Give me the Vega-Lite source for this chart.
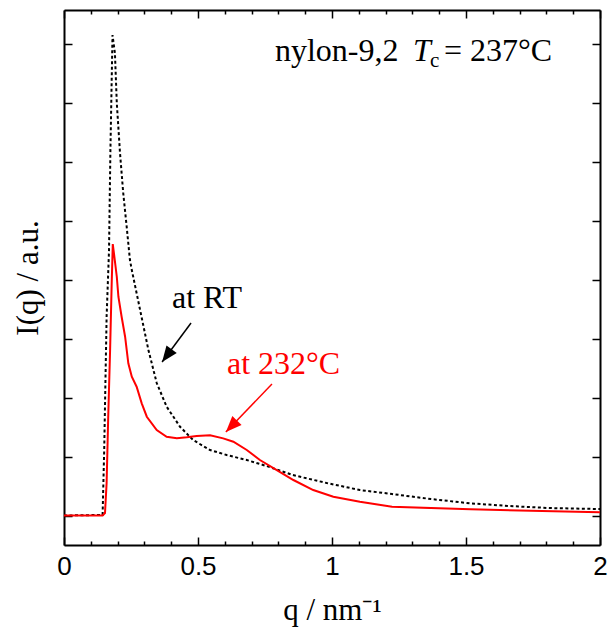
{
  "$schema": "https://vega.github.io/schema/vega-lite/v6.json",
  "width": 536,
  "height": 535,
  "autosize": {"type": "none"},
  "padding": {"left": 64, "top": 10, "right": 14, "bottom": 83},
  "background": "white",
  "config": {
    "view": {"stroke": null},
    "font": "Liberation Serif",
    "axis": {
      "grid": false,
      "domainColor": "black",
      "domainWidth": 2,
      "tickColor": "black",
      "tickWidth": 1.5,
      "labelColor": "black",
      "titleColor": "black",
      "titleFont": "Liberation Serif",
      "titleFontWeight": "normal",
      "titleFontSize": 31
    }
  },
  "datasets": {
    "rt": [
      {"q": 0, "v": 0}, {"q": 0.144, "v": 0.01}, {"q": 0.15, "v": 1.112}, {"q": 0.159, "v": 3.374},
      {"q": 0.168, "v": 4.506}, {"q": 0.173, "v": 6.152}, {"q": 0.181, "v": 8.155}, {"q": 0.19, "v": 7.849},
      {"q": 0.197, "v": 7.001}, {"q": 0.209, "v": 6.152}, {"q": 0.221, "v": 5.474}, {"q": 0.234, "v": 4.897},
      {"q": 0.246, "v": 4.337}, {"q": 0.253, "v": 4.167}, {"q": 0.284, "v": 3.488}, {"q": 0.315, "v": 2.809},
      {"q": 0.346, "v": 2.249}, {"q": 0.383, "v": 1.847}, {"q": 0.433, "v": 1.507}, {"q": 0.482, "v": 1.281},
      {"q": 0.545, "v": 1.112}, {"q": 0.607, "v": 1.027}, {"q": 0.682, "v": 0.942}, {"q": 0.756, "v": 0.84},
      {"q": 0.854, "v": 0.687}, {"q": 0.98, "v": 0.552}, {"q": 1.104, "v": 0.433}, {"q": 1.224, "v": 0.365},
      {"q": 1.369, "v": 0.28}, {"q": 1.517, "v": 0.207}, {"q": 1.664, "v": 0.161}, {"q": 1.813, "v": 0.127},
      {"q": 2.0, "v": 0.11}
    ],
    "hot": [
      {"q": 0, "v": 0}, {"q": 0.144, "v": 0}, {"q": 0.153, "v": 0.042}, {"q": 0.159, "v": 0.552},
      {"q": 0.165, "v": 1.677}, {"q": 0.172, "v": 2.809}, {"q": 0.178, "v": 3.946}, {"q": 0.182, "v": 4.608},
      {"q": 0.188, "v": 4.392}, {"q": 0.197, "v": 4.053}, {"q": 0.203, "v": 3.714}, {"q": 0.215, "v": 3.374},
      {"q": 0.228, "v": 3.035}, {"q": 0.24, "v": 2.583}, {"q": 0.253, "v": 2.356}, {"q": 0.271, "v": 2.186},
      {"q": 0.29, "v": 1.904}, {"q": 0.309, "v": 1.677}, {"q": 0.346, "v": 1.451}, {"q": 0.383, "v": 1.337},
      {"q": 0.421, "v": 1.31}, {"q": 0.458, "v": 1.327}, {"q": 0.495, "v": 1.349}, {"q": 0.545, "v": 1.361},
      {"q": 0.594, "v": 1.31}, {"q": 0.632, "v": 1.253}, {"q": 0.682, "v": 1.112}, {"q": 0.731, "v": 0.942},
      {"q": 0.794, "v": 0.772}, {"q": 0.856, "v": 0.603}, {"q": 0.93, "v": 0.433}, {"q": 1.005, "v": 0.319},
      {"q": 1.104, "v": 0.234}, {"q": 1.224, "v": 0.149}, {"q": 1.517, "v": 0.105}, {"q": 1.955, "v": 0.059},
      {"q": 2.0, "v": 0.054}
    ],
    "notes": [
      {"kind": "plain", "text": "nylon-9,2", "q": 0.787, "v": 7.714},
      {"kind": "plain", "text": "= 237°C", "q": 1.418, "v": 7.714},
      {"kind": "plain", "text": "at RT", "q": 0.403, "v": 3.522},
      {"kind": "italic", "text": "T", "q": 1.302, "v": 7.714},
      {"kind": "sub", "text": "c", "q": 1.366, "v": 7.612},
      {"kind": "red", "text": "at 232°C", "q": 0.608, "v": 2.402}
    ],
    "arrows": [
      {"k": "RT", "q": 0.474, "v": 3.268, "q2": 0.366, "v2": 2.605},
      {"k": "232", "q": 0.776, "v": 2.232, "q2": 0.604, "v2": 1.417}
    ]
  },
  "resolve": {"axis": {"x": "independent", "y": "independent"}},
  "layer": [
    {
      "data": {"name": "rt"},
      "mark": {"type": "line", "color": "black", "strokeWidth": 2, "strokeDash": [3, 2.5], "clip": true},
      "encoding": {
        "x": {
          "field": "q", "type": "quantitative",
          "scale": {"domain": [0, 2], "nice": false, "zero": false},
          "axis": {
            "orient": "bottom", "values": [0, 0.5, 1, 1.5, 2], "format": "~g", "tickSize": -8,
            "labelFont": "Liberation Sans", "labelFontSize": 26, "labelPadding": 16, "labelFlush": false,
            "title": "q / nm⁻¹", "titlePadding": 16
          }
        },
        "y": {
          "field": "v", "type": "quantitative",
          "scale": {"domain": [-0.5, 8.58], "nice": false, "zero": false},
          "axis": {
            "orient": "left", "values": [0, 1, 2, 3, 4, 5, 6, 7, 8], "tickSize": -8, "labels": false,
            "title": "I(q) / a.u.", "titlePadding": 19
          }
        }
      }
    },
    {
      "data": {"name": "hot"},
      "mark": {"type": "line", "color": "#ff0000", "strokeWidth": 2, "clip": true},
      "encoding": {
        "x": {
          "field": "q", "type": "quantitative",
          "axis": {"orient": "top", "values": [0, 0.5, 1, 1.5, 2], "tickSize": -8, "labels": false, "title": null}
        },
        "y": {
          "field": "v", "type": "quantitative",
          "axis": {"orient": "right", "values": [0, 1, 2, 3, 4, 5, 6, 7, 8], "tickSize": -8, "labels": false, "title": null}
        }
      }
    },
    {
      "data": {"name": "notes"},
      "transform": [{"filter": "datum.kind === 'plain'"}],
      "mark": {"type": "text", "font": "Liberation Serif", "fontSize": 32, "align": "left", "baseline": "alphabetic", "color": "black"},
      "encoding": {
        "x": {
          "field": "q", "type": "quantitative",
          "axis": {
            "orient": "bottom", "domain": false, "labels": false, "title": null, "tickSize": -4,
            "values": [0.1, 0.2, 0.3, 0.4, 0.6, 0.7, 0.8, 0.9, 1.1, 1.2, 1.3, 1.4, 1.6, 1.7, 1.8, 1.9]
          }
        },
        "y": {"field": "v", "type": "quantitative", "axis": null},
        "text": {"field": "text"}
      }
    },
    {
      "data": {"name": "notes"},
      "transform": [{"filter": "datum.kind === 'italic'"}],
      "mark": {"type": "text", "font": "Liberation Serif", "fontSize": 32, "fontStyle": "italic", "align": "left", "baseline": "alphabetic", "color": "black"},
      "encoding": {
        "x": {
          "field": "q", "type": "quantitative",
          "axis": {
            "orient": "top", "domain": false, "labels": false, "title": null, "tickSize": -4,
            "values": [0.1, 0.2, 0.3, 0.4, 0.6, 0.7, 0.8, 0.9, 1.1, 1.2, 1.3, 1.4, 1.6, 1.7, 1.8, 1.9]
          }
        },
        "y": {"field": "v", "type": "quantitative", "axis": null},
        "text": {"field": "text"}
      }
    },
    {
      "data": {"name": "notes"},
      "transform": [{"filter": "datum.kind === 'sub'"}],
      "mark": {"type": "text", "font": "Liberation Serif", "fontSize": 21, "align": "left", "baseline": "alphabetic", "color": "black"},
      "encoding": {
        "x": {"field": "q", "type": "quantitative", "axis": null},
        "y": {"field": "v", "type": "quantitative", "axis": null},
        "text": {"field": "text"}
      }
    },
    {
      "data": {"name": "notes"},
      "transform": [{"filter": "datum.kind === 'red'"}],
      "mark": {"type": "text", "font": "Liberation Serif", "fontSize": 32, "align": "left", "baseline": "alphabetic", "color": "#ff0000"},
      "encoding": {
        "x": {"field": "q", "type": "quantitative", "axis": null},
        "y": {"field": "v", "type": "quantitative", "axis": null},
        "text": {"field": "text"}
      }
    },
    {
      "data": {"name": "arrows"},
      "transform": [{"filter": "datum.k === 'RT'"}],
      "mark": {"type": "rule", "color": "black", "strokeWidth": 1.5},
      "encoding": {
        "x": {"field": "q", "type": "quantitative", "axis": null},
        "y": {"field": "v", "type": "quantitative", "axis": null},
        "x2": {"field": "q2"},
        "y2": {"field": "v2"}
      }
    },
    {
      "data": {"name": "arrows"},
      "transform": [{"filter": "datum.k === '232'"}],
      "mark": {"type": "rule", "color": "#ff0000", "strokeWidth": 1.5},
      "encoding": {
        "x": {"field": "q", "type": "quantitative", "axis": null},
        "y": {"field": "v", "type": "quantitative", "axis": null},
        "x2": {"field": "q2"},
        "y2": {"field": "v2"}
      }
    },
    {
      "data": {"name": "arrows"},
      "transform": [{"filter": "datum.k === 'RT'"}],
      "mark": {"type": "point", "shape": "M0,0L0.8,2L-0.8,2Z", "filled": true, "size": 256, "angle": 216.6, "color": "black", "opacity": 1, "strokeWidth": 0},
      "encoding": {
        "x": {"field": "q2", "type": "quantitative", "axis": null},
        "y": {"field": "v2", "type": "quantitative", "axis": null}
      }
    },
    {
      "data": {"name": "arrows"},
      "transform": [{"filter": "datum.k === '232'"}],
      "mark": {"type": "point", "shape": "M0,0L0.8,2L-0.8,2Z", "filled": true, "size": 256, "angle": 223.8, "color": "#ff0000", "opacity": 1, "strokeWidth": 0},
      "encoding": {
        "x": {"field": "q2", "type": "quantitative", "axis": null},
        "y": {"field": "v2", "type": "quantitative", "axis": null}
      }
    }
  ]
}
